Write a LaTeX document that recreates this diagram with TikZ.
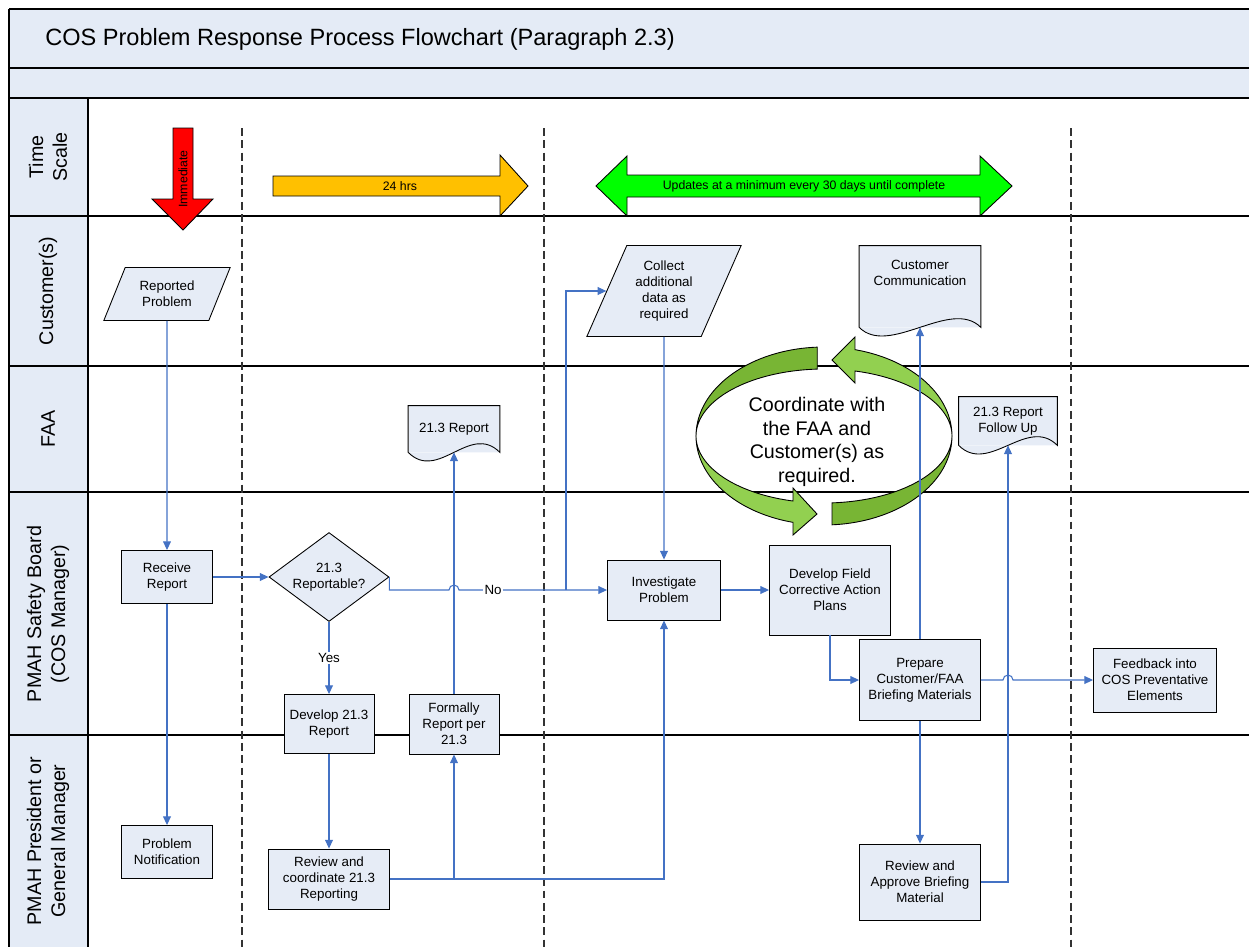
\documentclass[tikz,border=0pt]{standalone}
\usepackage{fontspec}
\setmainfont{Liberation Sans}
\usetikzlibrary{shapes.geometric, arrows.meta, calc}
\definecolor{nodefill}{RGB}{230, 236, 246}
\definecolor{hdrfill}{RGB}{228, 235, 246}
\definecolor{flowblue}{RGB}{68, 114, 196}
\definecolor{swirllight}{RGB}{146, 208, 80}
\definecolor{swirldark}{RGB}{120, 181, 52}
\definecolor{hrsyellow}{RGB}{255, 192, 0}
\definecolor{updgreen}{RGB}{0, 255, 0}
\newcommand{\boxfont}{\fontsize{7.6}{9.1}\selectfont}
\newcommand{\lanefont}{\fontsize{11.2}{13.6}\selectfont}
\newcommand{\scalefont}{\fontsize{7}{8.4}\selectfont}
% wavy bottom for the document nodes
\newcommand{\docwave}[1]{%
  \fill[nodefill] (#1.south east) .. controls +(-30,-30) and +(30,30) .. (#1.south west) -- cycle;
  \draw[boxline] (#1.south west) -- (#1.north west) -- (#1.north east) -- (#1.south east)
    .. controls +(-30,-30) and +(30,30) .. (#1.south west);}

\begin{document}
\begin{tikzpicture}[
    x=0.02cm, y=-0.02cm,
    boxline/.style={
        draw=black,
        line width=0.5pt
    },
    box/.style={
        rectangle,
        boxline,
        fill=nodefill,
        align=center,
        inner sep=1pt,
        font=\boxfont
    },
    iobox/.style={
        trapezium,
        trapezium left angle=63,
        trapezium right angle=117,
        trapezium stretches=true,
        boxline,
        fill=nodefill,
        align=center,
        inner sep=1pt,
        font=\boxfont
    },
    decision/.style={
        diamond,
        aspect=1.35,
        boxline,
        fill=nodefill,
        align=center,
        inner sep=0pt,
        font=\boxfont
    },
    doc/.style={
        rectangle,
        fill=nodefill,
        align=center,
        inner sep=1pt,
        font=\boxfont
    },
    flow/.style={
        line width=0.6pt,
        -{Stealth[length=5pt, width=4.5pt, inset=0pt]},
        draw=flowblue
    },
    lbl/.style={
        fill=white,
        inner sep=1pt,
        font=\boxfont
    },
    laneline/.style={
        draw=black,
        line width=0.6pt
    },
    lanelabel/.style={
        rotate=90,
        align=center,
        font=\lanefont
    },
    divider/.style={
        draw=black!80,
        line width=0.6pt,
        dash pattern=on 4.5pt off 2.5pt
    },
    swirlline/.style={
        draw=black,
        line width=0.5pt
    }
]

\useasboundingbox (0,0) rectangle (1249,947);

% Swimlane frame
\fill[hdrfill] (9,9) rectangle (1249,98);
\fill[hdrfill] (9,98) rectangle (88,947);
\draw[laneline] (9,9) -- (1249,9);
\draw[laneline] (9,68) -- (1249,68);
\draw[laneline] (9,98) -- (1249,98);
\draw[laneline] (9,216) -- (1249,216);
\draw[laneline] (9,366) -- (1249,366);
\draw[laneline] (9,492) -- (1249,492);
\draw[laneline] (9,735) -- (1249,735);
\draw[laneline] (9,9) -- (9,947);
\draw[laneline] (88,98) -- (88,947);

% Phase dividers
\draw[divider] (242,128) -- (242,947);
\draw[divider] (544,128) -- (544,947);
\draw[divider] (1071,128) -- (1071,947);

% Title and lane names
\node[anchor=base west, inner sep=0pt, font=\fontsize{13.4}{16}\selectfont] (title) at (45,45) {COS Problem Response Process Flowchart (Paragraph 2.3)};
\node[lanelabel] (lscale) at (48,157) {Time\\Scale};
\node[lanelabel] (lcust) at (48,291) {Customer(s)};
\node[lanelabel] (lfaa) at (48,429) {FAA};
\node[lanelabel] (lboard) at (48,614) {PMAH Safety Board\\(COS Manager)};
\node[lanelabel] (lpres) at (48,841) {PMAH President or\\General Manager};

% Time scale arrows
\filldraw[boxline, fill=red] (173,128) -- (193,128) -- (193,199) -- (213,199) -- (183,230) -- (152,199) -- (173,199) -- cycle;
\node[rotate=90, font=\scalefont] (immed) at (183,179) {Immediate};
\filldraw[boxline, fill=hrsyellow] (273,176) -- (500,176) -- (500,155) -- (528,186) -- (500,216) -- (500,196) -- (273,196) -- cycle;
\node[font=\scalefont] (hrs) at (400,186) {24 hrs};
\filldraw[boxline, fill=updgreen] (596,186) -- (627,156) -- (627,175) -- (980,175) -- (980,156) -- (1012,186) -- (980,216) -- (980,197) -- (627,197) -- (627,216) -- cycle;
\node[font=\scalefont] (upd) at (804,186) {Updates at a minimum every 30 days until complete};

% Coordination swirl
\filldraw[swirlline, fill=swirldark]
    plot[domain=267:180, samples=40] ({824+128*cos(\x)}, {436+89*sin(\x)})
    -- plot[domain=180:267, samples=40] ({824+128*cos(\x)}, {436+67*sin(\x)}) -- cycle;
\filldraw[swirlline, fill=swirllight]
    plot[domain=180:104, samples=40] ({824+128*cos(\x)}, {436+89*sin(\x)})
    -- (793,535) -- (817,514) -- (793,488)
    -- plot[domain=104:180, samples=40] ({824+128*cos(\x)}, {436+67*sin(\x)}) -- cycle;
\filldraw[swirlline, fill=swirldark]
    plot[domain=86.4:0, samples=40] ({824+128*cos(\x)}, {436+89*sin(\x)})
    -- plot[domain=0:86.4, samples=40] ({824+128*cos(\x)}, {436+67*sin(\x)}) -- cycle;
\filldraw[swirlline, fill=swirllight]
    plot[domain=0:-76, samples=40] ({824+128*cos(\x)}, {436+89*sin(\x)})
    -- (855,337) -- (832,360) -- (855,383)
    -- plot[domain=-76:0, samples=40] ({824+128*cos(\x)}, {436+67*sin(\x)}) -- cycle;
\node[align=center, font=\fontsize{11.2}{13.4}\selectfont] (coord) at (817,442) {Coordinate with\\the FAA and\\Customer(s) as\\required.};

% Customer lane
\node[iobox, minimum width=2.54cm, minimum height=1.06cm] (rprob) at (167,294) {Reported\\Problem};
\node[iobox, minimum width=3.1cm, minimum height=1.82cm] (collect) at (664,291) {Collect\\additional\\data as\\required};
\node[doc, minimum width=2.42cm, minimum height=1.62cm] (custcom) at (920,286.5) {Customer\\Communication\\[6pt]};
\docwave{custcom}

% FAA lane
\node[doc, minimum width=1.82cm, minimum height=0.92cm] (rep) at (454,429) {21.3 Report};
\docwave{rep}
\node[doc, minimum width=1.96cm, minimum height=0.96cm] (follow) at (1008,421) {21.3 Report\\Follow Up};
\docwave{follow}

% Safety board lane
\node[box, minimum width=1.82cm, minimum height=1.06cm] (recv) at (167,577) {Receive\\Report};
\node[decision, minimum width=2.4cm, minimum height=1.78cm] (dec) at (329,577) {21.3\\Reportable?};
\node[box, minimum width=1.8cm, minimum height=1.18cm] (dev) at (329,724) {Develop 21.3\\Report};
\node[box, minimum width=1.8cm, minimum height=1.2cm] (formal) at (454,724) {Formally\\Report per\\21.3};
\node[box, minimum width=2.26cm, minimum height=1.2cm] (invest) at (664,590) {Investigate\\Problem};
\node[box, minimum width=2.42cm, minimum height=1.8cm] (field) at (830,590) {Develop Field\\Corrective Action\\Plans};
\node[box, minimum width=2.42cm, minimum height=1.62cm] (prep) at (920,680) {Prepare\\Customer/FAA\\Briefing Materials};
\node[box, minimum width=2.46cm, minimum height=1.28cm] (feed) at (1155,680) {Feedback into\\COS Preventative\\Elements};

% President lane
\node[box, minimum width=1.82cm, minimum height=1.06cm] (pnotif) at (167,852) {Problem\\Notification};
\node[box, minimum width=2.42cm, minimum height=1.2cm] (revco) at (329,879) {Review and\\coordinate 21.3\\Reporting};
\node[box, minimum width=2.42cm, minimum height=1.52cm] (revap) at (920,882) {Review and\\Approve Briefing\\Material};

% Connectors
\draw[flow] (rprob.south) -- (recv.north);
\draw[flow] (recv.south) -- (pnotif.north);
\draw[flow] (recv.east) -- (dec.west);
\draw[flow] (dec.south) -- node[lbl] {Yes} (dev.north);
\draw[flow] (dev.south) -- (revco.north);
\draw[flow] (revco.east) -| (formal.south);
\draw[flow] (revco.east) -| (invest.south);
\draw[flow] (formal.north) -- (rep.south);

% No path hops over the report line
\draw[flow] (dec.east) -- ++(0,13) -- (449,590) arc[start angle=180, end angle=0, radius=0.1cm]
    -- node[lbl, pos=0.23] {No} (invest.west);
\coordinate (nosplit) at (566,590);
\draw[flow] (nosplit) |- (collect.west);
\draw[flow] (collect.south) -- (invest.north);

\draw[flow] (invest.east) -- (field.west);
\draw[flow] (field.south) |- (prep.west);
\draw[flow] (prep.north) -- (custcom.south);
\draw[flow] (prep.south) -- (revap.north);
\draw[flow] (revap.east) -| (follow.south);
\draw[flow] (prep.east) -- (1003,680) arc[start angle=180, end angle=0, radius=0.1cm] -- (feed.west);

\end{tikzpicture}
\end{document}
